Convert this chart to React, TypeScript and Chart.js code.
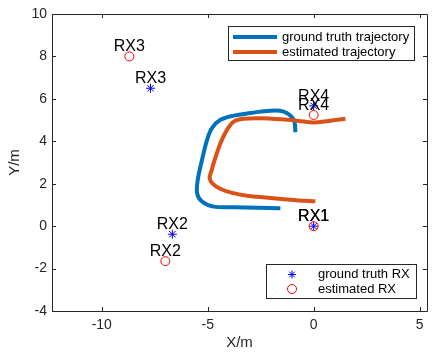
import { useEffect, useRef } from 'react';
import { Chart, registerables } from 'chart.js';

Chart.register(...registerables);

// Ground truth trajectory (m)
const gtTrajX = [-1.57, -2.67, -3.77, -4.72, -5.27, -5.5, -5.47, -5.27, -5.03, -4.8, -4.4, -3.77, -2.99, -2.2, -1.42, -0.94, -0.86];
const gtTrajY = [0.84, 0.87, 0.89, 0.92, 1.16, 1.55, 2.18, 3.12, 4.07, 4.62, 5.01, 5.21, 5.33, 5.43, 5.4, 5.01, 4.43];

// Estimated trajectory (m)
const estTrajX = [0.08, -0.71, -1.51, -2.28, -3.07, -3.85, -4.39, -4.76, -4.91, -4.81, -4.72, -4.4, -4.09, -3.77, -3.3, -2.51, -1.42, -0.71, 0.0, 0.71, 1.5];
const estTrajY = [1.17, 1.21, 1.28, 1.35, 1.42, 1.57, 1.75, 1.99, 2.27, 2.65, 2.97, 3.91, 4.54, 4.93, 5.06, 5.09, 5.03, 4.96, 4.89, 4.96, 5.06];

// Receivers
const rxNames = ['RX1', 'RX2', 'RX3', 'RX4'];
const gtRxX = [0, -6.67, -7.7, 0];
const gtRxY = [0, -0.38, 6.5, 5.67];
const estRxX = [0, -7.0, -8.7, 0];
const estRxY = [0, -1.65, 8.0, 5.24];

const xTicks = [-10, -5, 0, 5];
const yTicks = [-4, -2, 0, 2, 4, 6, 8, 10];
const xMin = -12.35;
const xMax = 5.35;
const yMin = -4;
const yMax = 10;

const FONT = '"Liberation Sans", Arial, Helvetica, sans-serif';
const AXIS_COLOR = '#262626';
const BLUE = '#0072BD';
const ORANGE = '#D95319';

const zip = (xs: number[], ys: number[]) => xs.map((x, i) => ({ x, y: ys[i] }));

const framePlugin = {
  id: 'matlabFrame',
  afterDatasetsDraw(chart: any) {
    const ctx = chart.ctx as CanvasRenderingContext2D;
    const { left, right, top, bottom } = chart.chartArea;
    const xs = chart.scales.x;
    const ys = chart.scales.y;

    // RX labels
    ctx.save();
    ctx.fillStyle = '#000';
    ctx.font = `16px ${FONT}`;
    ctx.textAlign = 'center';
    ctx.textBaseline = 'alphabetic';
    [2, 3].forEach((di) => {
      const meta = chart.getDatasetMeta(di);
      meta.data.forEach((pt: any, i: number) => {
        ctx.fillText(rxNames[i], pt.x, pt.y - 5);
      });
    });
    ctx.restore();

    // Box and inward ticks
    ctx.save();
    ctx.strokeStyle = AXIS_COLOR;
    ctx.lineWidth = 1;
    ctx.beginPath();
    ctx.rect(Math.round(left) + 0.5, Math.round(top) + 0.5, Math.round(right - left), Math.round(bottom - top));
    ctx.stroke();
    const tl = 4;
    ctx.beginPath();
    xTicks.forEach((v) => {
      const px = Math.round(xs.getPixelForValue(v)) + 0.5;
      ctx.moveTo(px, bottom);
      ctx.lineTo(px, bottom - tl);
      ctx.moveTo(px, top);
      ctx.lineTo(px, top + tl);
    });
    yTicks.forEach((v) => {
      const py = Math.round(ys.getPixelForValue(v)) + 0.5;
      ctx.moveTo(left, py);
      ctx.lineTo(left + tl, py);
      ctx.moveTo(right, py);
      ctx.lineTo(right - tl, py);
    });
    ctx.stroke();
    ctx.restore();

    // Legend 1 (trajectories)
    ctx.save();
    ctx.fillStyle = '#fff';
    ctx.strokeStyle = AXIS_COLOR;
    ctx.lineWidth = 1;
    ctx.fillRect(228, 26, 186, 34);
    ctx.strokeRect(228.5, 26.5, 186, 34);
    ctx.lineWidth = 4;
    ctx.strokeStyle = BLUE;
    ctx.beginPath();
    ctx.moveTo(233, 37);
    ctx.lineTo(277, 37);
    ctx.stroke();
    ctx.strokeStyle = ORANGE;
    ctx.beginPath();
    ctx.moveTo(233, 52);
    ctx.lineTo(277, 52);
    ctx.stroke();
    ctx.fillStyle = '#000';
    ctx.font = `13px ${FONT}`;
    ctx.textAlign = 'left';
    ctx.textBaseline = 'middle';
    ctx.fillText(chart.data.datasets[0].label, 282, 37);
    ctx.fillText(chart.data.datasets[1].label, 282, 52);
    ctx.restore();

    // Legend 2 (receivers)
    ctx.save();
    ctx.fillStyle = '#fff';
    ctx.strokeStyle = AXIS_COLOR;
    ctx.lineWidth = 1;
    ctx.fillRect(266, 264, 150, 34);
    ctx.strokeRect(266.5, 264.5, 150, 34);
    // star
    ctx.strokeStyle = '#0000FF';
    ctx.lineWidth = 1;
    const sx = 292, sy = 274.5, r = 4;
    ctx.beginPath();
    for (let k = 0; k < 4; k++) {
      const a = (k * Math.PI) / 4;
      ctx.moveTo(sx - r * Math.cos(a), sy - r * Math.sin(a));
      ctx.lineTo(sx + r * Math.cos(a), sy + r * Math.sin(a));
    }
    ctx.stroke();
    ctx.strokeStyle = '#FF0000';
    ctx.beginPath();
    ctx.arc(292, 289, 4.5, 0, Math.PI * 2);
    ctx.stroke();
    ctx.fillStyle = '#000';
    ctx.font = `13px ${FONT}`;
    ctx.textAlign = 'left';
    ctx.textBaseline = 'middle';
    ctx.fillText(chart.data.datasets[2].label, 318, 274.5);
    ctx.fillText(chart.data.datasets[3].label, 318, 289);
    ctx.restore();
  },
};

export default function App() {
  const ref = useRef<HTMLCanvasElement | null>(null);

  useEffect(() => {
    if (!ref.current) return;
    const chart = new Chart(ref.current, {
      type: 'scatter',
      data: {
        datasets: [
          {
            label: 'ground truth trajectory',
            data: zip(gtTrajX, gtTrajY),
            showLine: true,
            borderColor: BLUE,
            borderWidth: 4,
            pointRadius: 0,
            tension: 0.35,
            order: 4,
          },
          {
            label: 'estimated trajectory',
            data: zip(estTrajX, estTrajY),
            showLine: true,
            borderColor: ORANGE,
            borderWidth: 4,
            pointRadius: 0,
            tension: 0.35,
            order: 3,
          },
          {
            label: 'ground truth RX',
            data: zip(gtRxX, gtRxY),
            showLine: false,
            pointStyle: 'star',
            pointRadius: 4.5,
            borderColor: '#0000FF',
            backgroundColor: '#0000FF',
            pointBorderWidth: 1,
            order: 2,
          },
          {
            label: 'estimated RX',
            data: zip(estRxX, estRxY),
            showLine: false,
            pointStyle: 'circle',
            pointRadius: 4.5,
            borderColor: '#FF0000',
            backgroundColor: 'rgba(0,0,0,0)',
            pointBorderWidth: 1,
            order: 1,
          },
        ],
      },
      options: {
        responsive: false,
        animation: false,
        events: [],
        layout: { padding: { top: 14, right: 14, left: 0, bottom: 0 } },
        plugins: {
          legend: { display: false },
          tooltip: { enabled: false },
        },
        scales: {
          x: {
            type: 'linear',
            min: xMin,
            max: xMax,
            afterBuildTicks: (s: any) => {
              s.ticks = xTicks.map((v) => ({ value: v }));
            },
            afterFit: (s: any) => {
              s.height = 50;
            },
            grid: { display: false, drawTicks: false },
            border: { display: false },
            ticks: {
              color: AXIS_COLOR,
              font: { family: FONT, size: 14 },
              padding: 6,
              maxRotation: 0,
              autoSkip: false,
            },
            title: {
              display: true,
              text: 'X/m',
              color: AXIS_COLOR,
              font: { family: FONT, size: 15 },
              padding: { top: 0, bottom: 9 },
            },
          },
          y: {
            type: 'linear',
            min: yMin,
            max: yMax,
            afterBuildTicks: (s: any) => {
              s.ticks = yTicks.map((v) => ({ value: v }));
            },
            afterFit: (s: any) => {
              s.width = 52;
            },
            grid: { display: false, drawTicks: false },
            border: { display: false },
            ticks: {
              color: AXIS_COLOR,
              font: { family: FONT, size: 14 },
              padding: 5,
              autoSkip: false,
            },
            title: {
              display: true,
              text: 'Y/m',
              color: AXIS_COLOR,
              font: { family: FONT, size: 15 },
              padding: { top: 6, bottom: 0 },
            },
          },
        },
      },
      plugins: [framePlugin],
    });
    return () => chart.destroy();
  }, []);

  return (
    <div style={{ position: 'fixed', left: 0, top: 0, width: 441, height: 361, background: '#fff' }}>
      <canvas ref={ref} width={441} height={361} style={{ display: 'block', width: 441, height: 361 }} />
    </div>
  );
}
